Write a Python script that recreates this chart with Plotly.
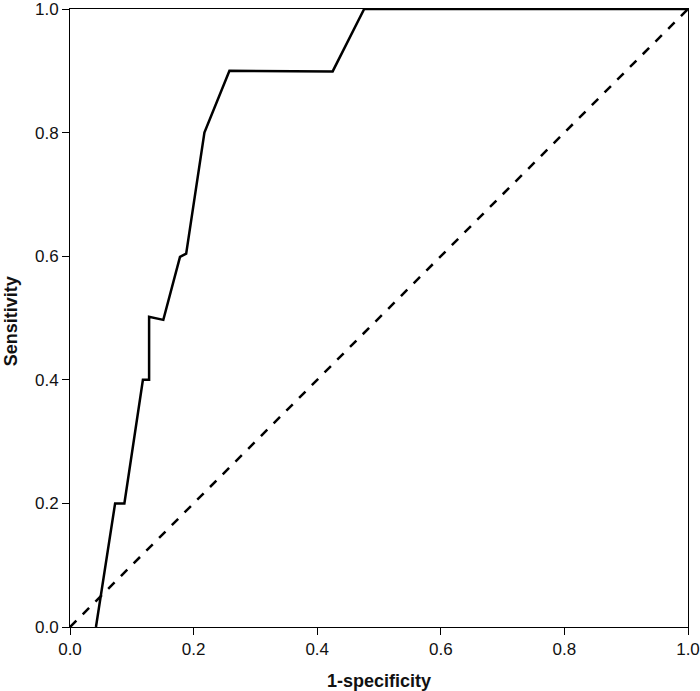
import plotly.graph_objects as go

# ROC curve points
fpr = [0.042, 0.073, 0.088, 0.118, 0.128, 0.128, 0.151, 0.178, 0.188, 0.2175, 0.258, 0.425, 0.476, 1.0]
tpr = [0.0, 0.2, 0.2, 0.4, 0.4, 0.502, 0.497, 0.599, 0.604, 0.800, 0.900, 0.899, 1.0, 1.0]
ref_x = [0, 1]
ref_y = [0, 1]
tick_vals = [0, 0.2, 0.4, 0.6, 0.8, 1.0]
tick_text = ["0.0", "0.2", "0.4", "0.6", "0.8", "1.0"]
x_title = "1-specificity"
y_title = "Sensitivity"

W, H = 700, 691
ML, MR, MT, MB = 70, 12, 9, 64
plot_w = W - ML - MR
plot_h = H - MT - MB

FONT = "Liberation Sans, Arial, Helvetica, sans-serif"

fig = go.Figure()
fig.add_trace(go.Scatter(x=ref_x, y=ref_y, mode="lines",
                         line=dict(color="black", width=2.5, dash="dash"),
                         cliponaxis=False, showlegend=False, hoverinfo="skip"))
fig.add_trace(go.Scatter(x=fpr, y=tpr, mode="lines",
                         line=dict(color="black", width=2.5),
                         cliponaxis=False, showlegend=False))

axis_common = dict(range=[0, 1], tickvals=tick_vals, ticktext=tick_text,
                   showgrid=False, zeroline=False, showline=True, mirror=True,
                   linecolor="black", linewidth=1, ticks="outside", ticklen=7,
                   tickcolor="black", tickwidth=1, automargin=False,
                   ticklabeloverflow="allow",
                   tickfont=dict(family=FONT, size=17, color="#111"))

fig.update_xaxes(**axis_common)
fig.update_yaxes(**axis_common)

fig.add_annotation(text="<b>" + x_title + "</b>", xref="paper", yref="paper",
                   x=0.5, y=-(681 - (MT + plot_h)) / plot_h,
                   xanchor="center", yanchor="middle", showarrow=False,
                   font=dict(family=FONT, size=18, color="#111"))
fig.add_annotation(text="<b>" + y_title + "</b>", xref="paper", yref="paper",
                   x=-(ML - 10.5) / plot_w, y=0.494, textangle=-90,
                   xanchor="center", yanchor="middle", showarrow=False,
                   font=dict(family=FONT, size=18, color="#111"))

fig.update_layout(width=W, height=H,
                  margin=dict(l=ML, r=MR, t=MT, b=MB, pad=0, autoexpand=False),
                  plot_bgcolor="white", paper_bgcolor="white")

fig.write_html("out.html", config={"displayModeBar": False},
               post_script="document.body.style.margin='0';document.body.style.overflow='hidden';")
